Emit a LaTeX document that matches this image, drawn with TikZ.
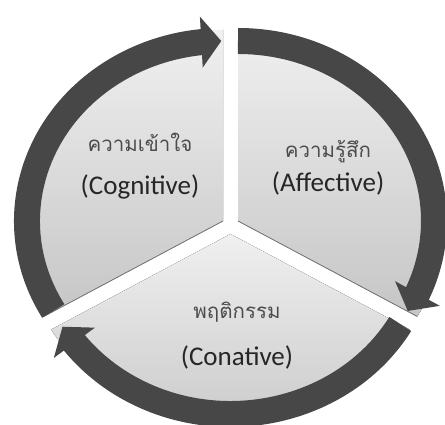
\documentclass[tikz,border=0pt]{standalone}
\usepackage{fontspec}
\setmainfont{Carlito}
\newfontfamily\thaifont[Script=Thai]{Loma}
\usetikzlibrary{positioning, arrows.meta, bending, calc}

\begin{document}
\begin{tikzpicture}[
    x=1pt, y=1pt,
    sector/.style={top color=gray!12, bottom color=gray!45, draw=none},
    rim/.style={draw=black!55, line width=0.8pt},
    ringarrow/.style={draw=black!72, line width=26pt, -{Triangle[length=20pt, width=50pt]}},
    thai/.style={font=\thaifont\fontsize{20.5}{24}\selectfont, text=black!70},
    eng/.style={font=\fontsize{27}{32}\selectfont, text=black!85},
    node distance=10pt
]
\useasboundingbox (0,0) rectangle (445,425);
% exploded centres of the three segments
\coordinate (c1) at (223,204);
\coordinate (c2) at (238,204);
\coordinate (c3) at (230.5,191);

% segments
\fill[sector] (c1) -- ++(90:207 and 191) arc[start angle=90, end angle=210, x radius=207, y radius=191] -- cycle;
\fill[sector] (c2) -- ++(-30:207 and 191) arc[start angle=-30, end angle=90, x radius=207, y radius=191] -- cycle;
\fill[sector] (c3) -- ++(210:207 and 191) arc[start angle=210, end angle=330, x radius=207, y radius=191] -- cycle;
\draw[rim] (c1) -- ++(210:207 and 191);
\draw[rim] (c2) -- ++(-30:207 and 191);

% arrows round the rim
\draw[ringarrow] (c1) ++(210:196 and 180) arc[start angle=210, end angle=90.5, x radius=196, y radius=180];
\draw[ringarrow] (c2) ++(90:196 and 180) arc[start angle=90, end angle=-30, x radius=196, y radius=180];
\draw[ringarrow] (c3) ++(330:196 and 180) arc[start angle=330, end angle=211, x radius=196, y radius=180];

% labels
\node[thai] (cogth) at (140,283) {ความเข้าใจ};
\node[eng, below=16pt of cogth] (cogen) {(Cognitive)};
\node[thai] (affth) at (328,273) {ความรู้สึก};
\node[eng, below=1pt of affth] (affen) {(Affective)};
\node[thai] (conth) at (237,113) {พฤติกรรม};
\node[eng, below=17pt of conth] (conen) {(Conative)};
\end{tikzpicture}
\end{document}
